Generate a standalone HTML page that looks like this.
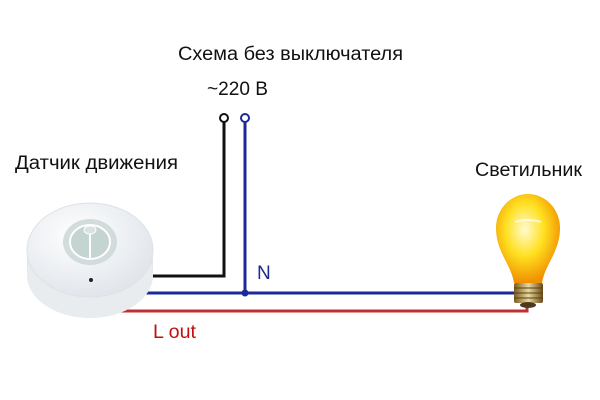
<!DOCTYPE html>
<html><head><meta charset="utf-8"><style>
body{margin:0;background:#fff;}
svg{display:block;font-family:"Liberation Sans",sans-serif;}
</style></head><body>
<svg width="600" height="400" viewBox="0 0 600 400">
<defs>
<radialGradient id="bulb" cx="0.45" cy="0.4" r="0.6">
<stop offset="0" stop-color="#fffbd0"/><stop offset="0.5" stop-color="#ffe020"/><stop offset="1" stop-color="#f09000"/>
</radialGradient>
<linearGradient id="base" x1="0" x2="1"><stop offset="0" stop-color="#7a5a20"/><stop offset="0.5" stop-color="#e8d8a0"/><stop offset="1" stop-color="#6a4a18"/></linearGradient>
<radialGradient id="sens" cx="0.4" cy="0.35" r="0.7"><stop offset="0" stop-color="#ffffff"/><stop offset="1" stop-color="#dfe4ea"/></radialGradient>
</defs>
<g lengthAdjust="spacingAndGlyphs">
<text x="178" y="60" font-size="19" textLength="225" lengthAdjust="spacingAndGlyphs" fill="#111">Схема без выключателя</text>
<text x="207" y="95" font-size="19" textLength="61" lengthAdjust="spacingAndGlyphs" fill="#111">~220 В</text>
<text x="15" y="169" font-size="19" textLength="163" lengthAdjust="spacingAndGlyphs" fill="#111">Датчик движения</text>
<text x="475" y="176" font-size="19" textLength="107" lengthAdjust="spacingAndGlyphs" fill="#111">Светильник</text>
<text x="257" y="279" font-size="19" fill="#1a2a8a">N</text>
<text x="153" y="338" font-size="19" textLength="43" lengthAdjust="spacingAndGlyphs" fill="#c01010">L out</text>
</g>
<polyline points="148,276 224,276 224,122" fill="none" stroke="#111" stroke-width="3"/>
<polyline points="245,122 245,293" fill="none" stroke="#1a2a9a" stroke-width="3"/>
<line x1="140" y1="293" x2="514" y2="293" stroke="#1a2a9a" stroke-width="3"/>
<circle cx="245" cy="293" r="3.5" fill="#1a2a9a"/>
<polyline points="120,311 527,311 527,298" fill="none" stroke="#c03030" stroke-width="3"/>
<circle cx="224" cy="118" r="4" fill="#fff" stroke="#111" stroke-width="2"/>
<circle cx="245" cy="118" r="4" fill="#fff" stroke="#1a2a9a" stroke-width="2"/>
<path d="M27,255 L27,275 A63,43 0 0 0 153,275 L153,255 Z" fill="#e4e8ec"/>
<ellipse cx="90" cy="275" rx="63" ry="43" fill="#e8ecef"/>
<ellipse cx="90" cy="250" rx="63" ry="47" fill="url(#sens)" stroke="#dde2e6"/>
<ellipse cx="90" cy="242" rx="27" ry="23" fill="#d2dcdc"/>
<ellipse cx="90" cy="242" rx="20" ry="17" fill="#c4d4d0" stroke="#fff" stroke-width="2"/>
<line x1="90" y1="225" x2="90" y2="259" stroke="#fff" stroke-width="2"/>
<ellipse cx="90" cy="230" rx="6" ry="4" fill="#d8e2e0" stroke="#fff"/>
<circle cx="91" cy="280" r="2" fill="#222"/>
<path d="M514,283 C511,264 496,252 496,228 A32,34 0 0 1 560,228 C560,252 545,264 542,283 Z" fill="url(#bulb)"/>
<path d="M515,222 q13,-4 26,0" stroke="#ffffff" stroke-width="2" fill="none" opacity="0.7"/>
<rect x="514" y="283" width="29" height="20" rx="2" fill="url(#base)"/>
<g stroke="#5a4010" stroke-width="1"><line x1="514" y1="288" x2="543" y2="288"/><line x1="514" y1="293" x2="543" y2="293"/><line x1="514" y1="298" x2="543" y2="298"/></g>
<ellipse cx="528" cy="305" rx="8" ry="3" fill="#4a3a20"/>
</svg>
</body></html>
